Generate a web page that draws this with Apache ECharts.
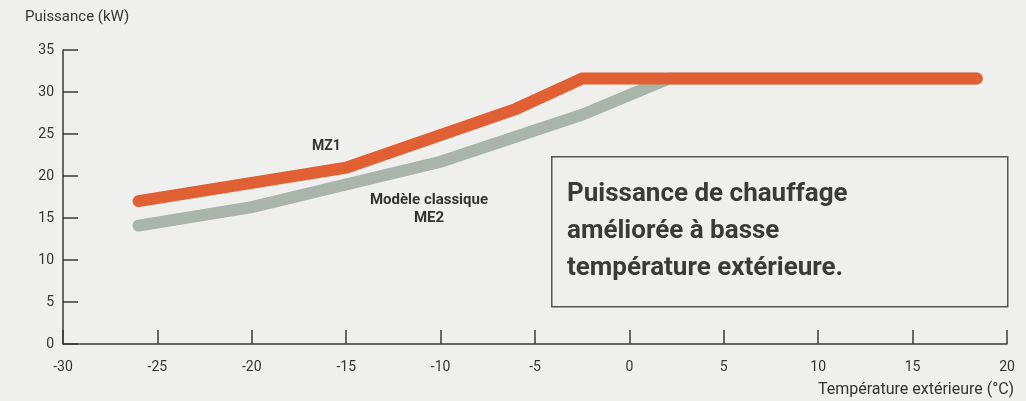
<!DOCTYPE html>
<html>
<head>
<meta charset="utf-8">
<script src="https://cdn.jsdelivr.net/npm/echarts@6/dist/echarts.min.js"></script>
<style>
  html, body { margin: 0; padding: 0; background: #eff0ee; }
  #chart { width: 1026px; height: 401px; }
</style>
</head>
<body>
<div id="chart"></div>
<script>
// temperature (°C) / power (kW) points
const mz1Temp = [-26, -15, -6, -2.5, 18.4]
const mz1Power = [17, 21, 28, 31.6, 31.6]
const me2Temp = [-26, -20, -10, -2.5, 2.1, 18.4]
const me2Power = [14.1, 16.3, 21.7, 27.3, 31.6, 31.6]

const xTicks = [-30, -25, -20, -15, -10, -5, 0, 5, 10, 15, 20]
const yTicks = [0, 5, 10, 15, 20, 25, 30, 35]

const axisCol = '#3a3a3a'
const textCol = '#333'
const font = 'Roboto'

const chart = echarts.init(document.getElementById('chart'))

const option = {
  backgroundColor: '#eff0ee',
  animation: false,
  grid: {
    left: 63,
    right: 19,
    top: 50,
    bottom: 57
  },
  xAxis: {
    type: 'value',
    min: xTicks[0],
    max: xTicks[xTicks.length - 1],
    interval: 5,
    axisLine: { show: true, onZero: false, lineStyle: { color: axisCol, width: 1.5 } },
    axisTick: { show: true, inside: true, length: 14, lineStyle: { color: axisCol, width: 1.5 } },
    axisLabel: { color: textCol, fontSize: 14, fontFamily: font, margin: 16 },
    splitLine: { show: false }
  },
  yAxis: {
    type: 'value',
    min: yTicks[0],
    max: yTicks[yTicks.length - 1],
    interval: 5,
    axisLine: { show: true, onZero: false, lineStyle: { color: axisCol, width: 1.5 } },
    axisTick: { show: true, inside: true, length: 15, lineStyle: { color: axisCol, width: 1.5 } },
    axisLabel: { color: textCol, fontSize: 14, fontFamily: font, margin: 9 },
    splitLine: { show: false }
  },
  series: [
    {
      name: 'ME2',
      type: 'line',
      data: me2Temp.map((t, i) => [t, me2Power[i]]),
      symbol: 'none',
      lineStyle: { color: '#a9b5aa', width: 12, cap: 'round', join: 'miter' },
      z: 2
    },
    {
      name: 'MZ1',
      type: 'line',
      data: mz1Temp.map((t, i) => [t, mz1Power[i]]),
      symbol: 'none',
      lineStyle: { color: '#e06033', width: 12, cap: 'round', join: 'miter' },
      z: 3
    }
  ],
  graphic: [
    {
      type: 'text', left: 25, top: 10,
      style: { text: 'Puissance (kW)', fill: textCol, font: '15px ' + font }
    },
    {
      type: 'text', right: 12, top: 382,
      style: { text: 'Température extérieure (°C)', fill: textCol, font: '16px ' + font }
    },
    {
      type: 'text', left: 312, top: 139,
      style: { text: 'MZ1', fill: textCol, font: 'bold 14px ' + font }
    },
    {
      type: 'text', x: 429, y: 191,
      style: {
        text: 'Modèle classique\nME2', fill: textCol, font: 'bold 15px ' + font,
        align: 'center', lineHeight: 18
      }
    },
    {
      type: 'rect', left: 551, top: 156,
      shape: { width: 456, height: 150 },
      style: { fill: 'transparent', stroke: '#555', lineWidth: 1.5 }
    },
    {
      type: 'text', left: 567, top: 176,
      style: {
        text: 'Puissance de chauffage\naméliorée à basse\ntempérature extérieure.',
        fill: '#3a3a3a', font: 'bold 26px ' + font, lineHeight: 37
      }
    }
  ]
}

chart.setOption(option)
</script>
</body>
</html>
